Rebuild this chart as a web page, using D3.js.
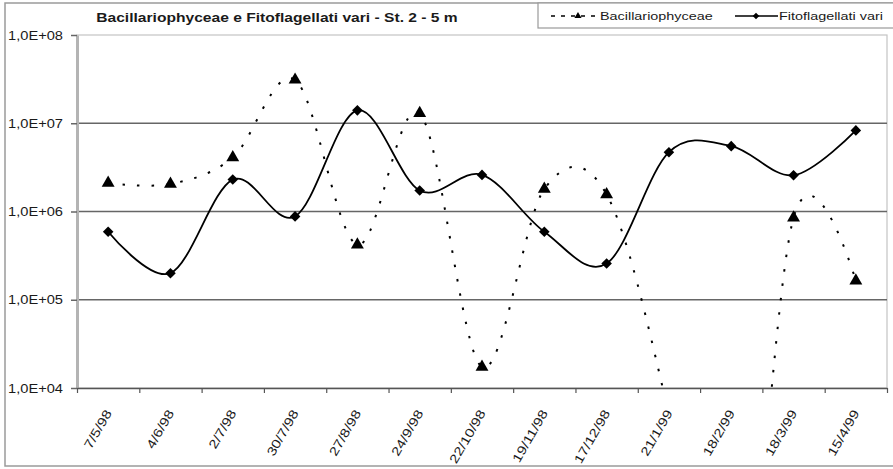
<!DOCTYPE html>
<html>
<head>
<meta charset="utf-8">
<script src="https://cdn.jsdelivr.net/npm/d3@7"></script>
<style>
  body { margin: 0; background: #fff; }
  text { font-family: Arial, "Liberation Sans", sans-serif; fill: #1a1a1a; }
</style>
</head>
<body>
<div id="chart"></div>
<script>
// values (log scale)
const dates = ["7/5/98", "4/6/98", "2/7/98", "30/7/98", "27/8/98", "24/9/98", "22/10/98",
               "19/11/98", "17/12/98", "21/1/99", "18/2/99", "18/3/99", "15/4/99"];
const bacillario = [2.1e6, 2.05e6, 4.1e6, 3.1e7, 4.2e5, 1.3e7, 1.73e4,
                    1.8e6, 1.56e6, 5e3, 1.3, 8.5e5, 1.64e5];
const fitoflag = [5.9e5, 2.0e5, 2.3e6, 8.8e5, 1.4e7, 1.73e6, 2.6e6,
                  5.9e5, 2.57e5, 4.7e6, 5.5e6, 2.57e6, 8.3e6];
const yTicks = [1e4, 1e5, 1e6, 1e7, 1e8];
const seriesNames = ["Bacillariophyceae", "Fitoflagellati vari"];
const title = "Bacillariophyceae e Fitoflagellati vari - St. 2 - 5 m";

const width = 893, height = 469;
const pLeft = 77, pRight = 887, pTop = 35, pBottom = 388;

// the old picture is stretched sideways, so widen text a bit
function stretch(sel, k) {
  sel.each(function () {
    const len = this.getComputedTextLength();
    d3.select(this).attr("textLength", len * k).attr("lengthAdjust", "spacingAndGlyphs");
  });
}

const svg = d3.select("#chart").append("svg")
    .attr("width", width)
    .attr("height", height);

svg.append("rect").attr("width", width).attr("height", height).attr("fill", "#fff");

// chart area border
svg.append("rect")
    .attr("x", 5).attr("y", 3)
    .attr("width", width).attr("height", 463)
    .attr("fill", "none").attr("stroke", "#9a9a9a").attr("stroke-width", 1.5);

const x = d3.scaleBand().domain(dates).range([pLeft, pRight]);
const xc = d => x(d) + x.bandwidth() / 2;
const xb = d3.scaleLinear().domain([0, dates.length]).range([pLeft, pRight]);
const y = d3.scaleLog().domain([1e4, 1e8]).range([pBottom, pTop]);

// plot area border
svg.append("rect")
    .attr("x", pLeft).attr("y", pTop)
    .attr("width", pRight - pLeft).attr("height", pBottom - pTop)
    .attr("fill", "none").attr("stroke", "#c4c4c4").attr("stroke-width", 1.2);

// gridlines
svg.append("g").selectAll("line")
    .data(yTicks.slice(1, -1))
    .join("line")
    .attr("x1", pLeft).attr("x2", pRight)
    .attr("y1", d => y(d)).attr("y2", d => y(d))
    .attr("stroke", "#666").attr("stroke-width", 1.5);

// y axis
const yAxis = svg.append("g")
    .attr("transform", `translate(${pLeft},0)`)
    .call(d3.axisLeft(y)
        .tickValues(yTicks)
        .tickFormat(d => "1,0E+" + String(Math.round(Math.log10(d))).padStart(2, "0"))
        .tickSize(6).tickSizeOuter(0).tickPadding(8));
yAxis.select(".domain").attr("stroke", "#b4b4b4").attr("stroke-width", 3);
yAxis.selectAll(".tick line").attr("stroke", "#666").attr("stroke-width", 1.5);
yAxis.selectAll("text")
    .attr("font-size", 12.5)
    .attr("font-family", "Arial, 'Liberation Sans', sans-serif")
    .attr("fill", "#1a1a1a")
    .call(stretch, 1.17);

// x axis: line and boundary ticks
const xAxis = svg.append("g")
    .attr("transform", `translate(0,${pBottom})`)
    .call(d3.axisBottom(xb)
        .tickValues(d3.range(dates.length + 1))
        .tickFormat("")
        .tickSize(5).tickSizeOuter(0));
xAxis.select(".domain").attr("stroke", "#555").attr("stroke-width", 1.5);
xAxis.selectAll(".tick line").attr("stroke", "#555").attr("stroke-width", 1.2);

// x labels
const xLab = svg.append("g")
    .attr("transform", `translate(0,${pBottom})`)
    .call(d3.axisBottom(x).tickSize(0));
xLab.select(".domain").remove();
xLab.selectAll("text")
    .attr("x", 0).attr("y", 0).attr("dy", 0)
    .attr("transform", "translate(4,25) rotate(-60)")
    .attr("text-anchor", "end")
    .attr("font-size", 12.5)
    .attr("font-family", "Arial, 'Liberation Sans', sans-serif")
    .attr("fill", "#1a1a1a")
    .call(stretch, 1.22);

// series
svg.append("clipPath").attr("id", "plotclip")
  .append("rect")
    .attr("x", pLeft).attr("y", pTop - 8)
    .attr("width", pRight - pLeft).attr("height", pBottom - pTop + 8);

const plot = svg.append("g").attr("clip-path", "url(#plotclip)");

const line = d3.line()
    .x((d, i) => xc(dates[i]))
    .y(d => y(d))
    .curve(d3.curveCatmullRom.alpha(0));

plot.append("path")
    .attr("d", line(bacillario))
    .attr("fill", "none")
    .attr("stroke", "#000")
    .attr("stroke-width", 2)
    .attr("stroke-dasharray", "2.5,12");

plot.selectAll(".tri")
    .data(bacillario)
    .join("path")
    .attr("class", "tri")
    .attr("d", d3.symbol(d3.symbolTriangle, 72))
    .attr("transform", (d, i) => `translate(${xc(dates[i])},${y(d)})`)
    .attr("fill", "#000");

plot.append("path")
    .attr("d", line(fitoflag))
    .attr("fill", "none")
    .attr("stroke", "#000")
    .attr("stroke-width", 1.8);

plot.selectAll(".dia")
    .data(fitoflag)
    .join("path")
    .attr("class", "dia")
    .attr("d", d3.symbol(d3.symbolSquare, 56))
    .attr("transform", (d, i) => `translate(${xc(dates[i])},${y(d)}) rotate(45)`)
    .attr("fill", "#000");

// title
svg.append("text")
    .attr("x", 277).attr("y", 22)
    .attr("text-anchor", "middle")
    .attr("font-size", 13)
    .attr("font-weight", "bold")
    .text(title)
    .call(stretch, 1.2);

// legend
svg.append("rect")
    .attr("x", 538).attr("y", 3)
    .attr("width", 400).attr("height", 25)
    .attr("fill", "#fff").attr("stroke", "#9a9a9a").attr("stroke-width", 1.2);

const lg = svg.append("g");
lg.append("line")
    .attr("x1", 551).attr("x2", 598).attr("y1", 16).attr("y2", 16)
    .attr("stroke", "#000").attr("stroke-width", 1.5).attr("stroke-dasharray", "4,6");
lg.append("path")
    .attr("d", d3.symbol(d3.symbolTriangle, 22))
    .attr("transform", "translate(578,16)");
lg.append("line")
    .attr("x1", 735).attr("x2", 778).attr("y1", 16).attr("y2", 16)
    .attr("stroke", "#000").attr("stroke-width", 1.5);
lg.append("path")
    .attr("d", d3.symbol(d3.symbolSquare, 22))
    .attr("transform", "translate(756,16) rotate(45)");
lg.selectAll("text")
    .data(seriesNames)
    .join("text")
    .attr("x", (d, i) => i === 0 ? 600 : 779)
    .attr("y", 20)
    .attr("font-size", 11.5)
    .text(d => d)
    .call(stretch, 1.25);
</script>
</body>
</html>
